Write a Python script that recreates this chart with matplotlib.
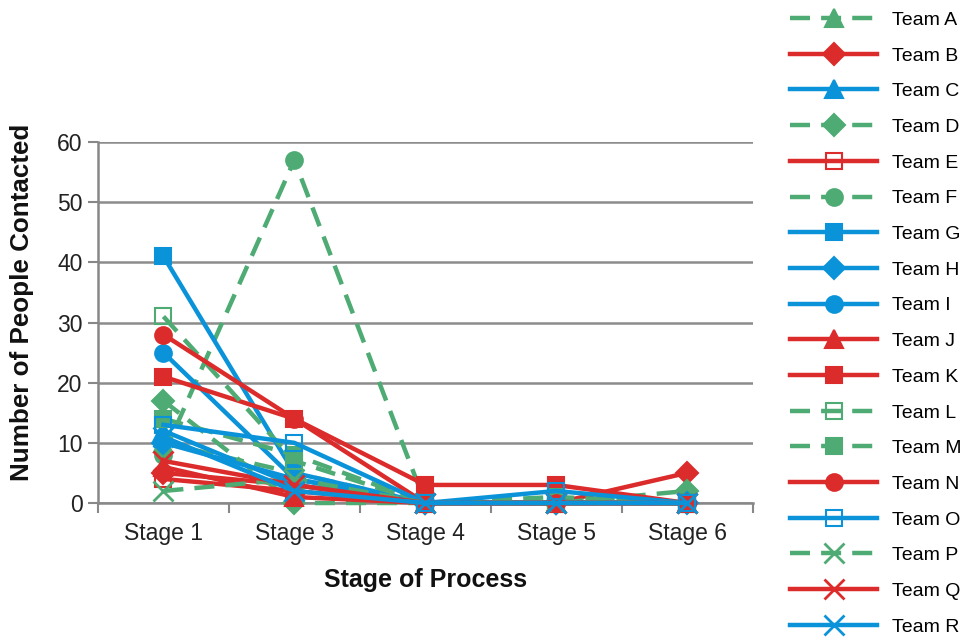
import matplotlib.pyplot as plt
import numpy as np

plt.rcParams['font.family'] = ['Liberation Sans', 'DejaVu Sans']

stages = ['Stage 1', 'Stage 3', 'Stage 4', 'Stage 5', 'Stage 6']
teams = ['Team A', 'Team B', 'Team C', 'Team D', 'Team E', 'Team F', 'Team G', 'Team H', 'Team I',
         'Team J', 'Team K', 'Team L', 'Team M', 'Team N', 'Team O', 'Team P', 'Team Q', 'Team R']

# people contacted per team at each stage
team_a = [10, 5, 0, 0, 0]
team_b = [5, 3, 0, 0, 5]
team_c = [12, 3, 0, 0, 0]
team_d = [17, 0, 0, 0, 2]
team_e = [4, 2, 0, 0, 0]
team_f = [8, 57, 0, 0, 0]
team_g = [41, 5, 0, 0, 0]
team_h = [10, 4, 0, 0, 0]
team_i = [25, 4, 0, 0, 0]
team_j = [6, 1, 0, 0, 0]
team_k = [21, 14, 3, 3, 0]
team_l = [31, 7, 0, 0, 0]
team_m = [14, 8, 0, 1, 0]
team_n = [28, 14, 0, 0, 0]
team_o = [13, 10, 0, 2, 0]
team_p = [2, 4, 0, 0, 0]
team_q = [7, 3, 0, 0, 0]
team_r = [11, 2, 0, 0, 0]

values = [team_a, team_b, team_c, team_d, team_e, team_f, team_g, team_h, team_i,
          team_j, team_k, team_l, team_m, team_n, team_o, team_p, team_q, team_r]

green = '#4dab73'
red = '#dc2b2b'
blue = '#0b93d9'
colors = [green, red, blue, green, red, green, blue, blue, blue,
          red, red, green, green, red, blue, green, red, blue]
markers = ['^', 'D', '^', 'D', 's', 'o', 's', 'D', 'o',
           '^', 's', 's', 's', 'o', 's', 'x', 'x', 'x']
sizes = {'^': 13, 'D': 11, 's': 12, 'o': 12, 'x': 14}
hollow = {'Team E', 'Team L', 'Team O'}

fig = plt.figure(figsize=(9.74, 6.38), dpi=100)
ax = fig.add_axes([0.1006, 0.2116, 0.672, 0.5658])
x = np.arange(len(stages))

for name, vals, c, m in zip(teams, values, colors, markers):
    ls = (0, (4.5, 2.5)) if c == green else '-'
    mfc = 'none' if name in hollow else c
    mew = 2 if m == 'x' else 1.5
    ax.plot(x, vals, color=c, linestyle=ls, linewidth=3.2, marker=m, markersize=sizes[m],
            markerfacecolor=mfc, markeredgecolor=c, markeredgewidth=mew,
            label=name, clip_on=False, zorder=3)

ax.set_xlim(-0.5, len(stages) - 0.5)
ax.set_ylim(0, 60)
ax.set_yticks(np.arange(0, 61, 10))
ax.set_xticks(x)
ax.set_xticklabels(stages, fontsize=16.5)
ax.set_xticks(np.arange(-0.5, len(stages)), minor=True)
ax.tick_params(axis='x', which='major', length=0, pad=14, colors='#222222')
ax.tick_params(axis='x', which='minor', length=7, width=1.5, color='#888888', direction='out')
ax.tick_params(axis='y', length=7, width=1.5, color='#888888', labelsize=16.5, labelcolor='#222222', pad=4)
ax.yaxis.grid(True, color='#8c8c8c', linewidth=1.8)
ax.set_axisbelow(True)
for s in ['top', 'right']:
    ax.spines[s].set_visible(False)
for s in ['left', 'bottom']:
    ax.spines[s].set_color('#888888')
    ax.spines[s].set_linewidth(1.8)

ax.set_xlabel('Stage of Process', fontsize=18, fontweight='bold', labelpad=16, color='#111111')
ax.set_ylabel('Number of People Contacted', fontsize=18.7, fontweight='bold', color='#111111')
ax.yaxis.set_label_coords(-0.098, 0.557)

fig.legend(loc='center left', bbox_to_anchor=(0.803, 0.493), frameon=False, fontsize=14,
           handlelength=4.5, labelspacing=0.93, handletextpad=0.75, borderaxespad=0)

fig.savefig('out.png', dpi=100)
